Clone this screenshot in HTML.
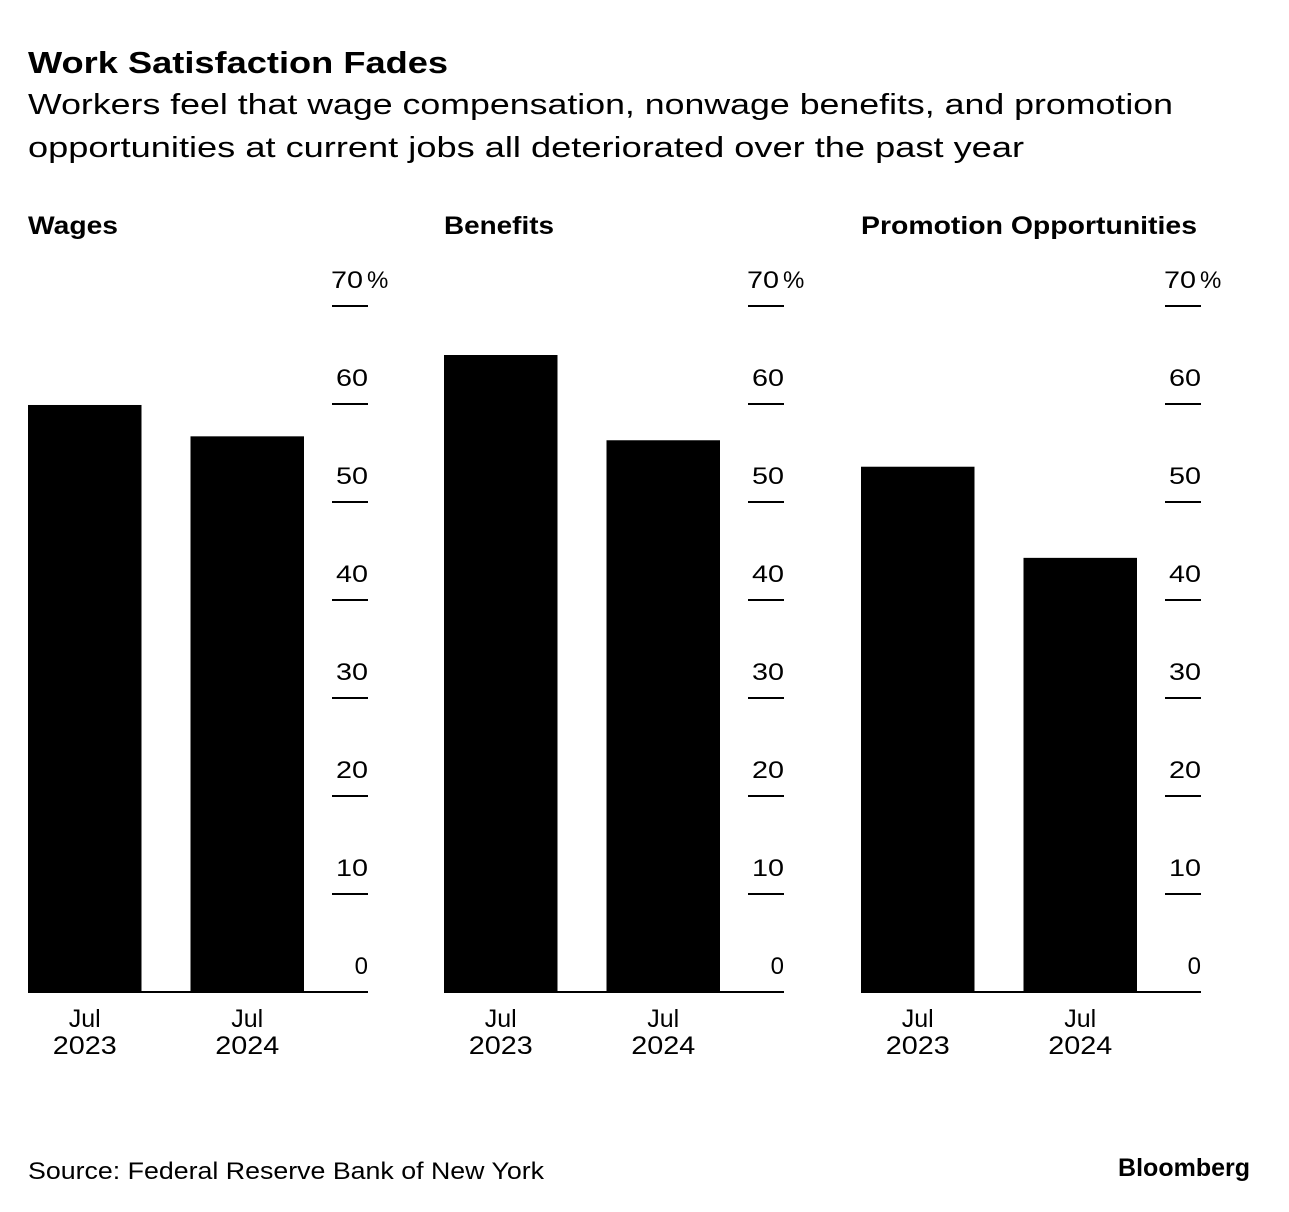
<!DOCTYPE html>
<html><head><meta charset="utf-8"><style>
body{margin:0;background:#fff;width:1289px;height:1212px;overflow:hidden;font-family:"Liberation Sans",sans-serif}
svg{display:block}
</style></head><body>
<svg id="c" width="1289" height="1212">
<text x="28" y="73" font-size="31" font-weight="bold" textLength="420" lengthAdjust="spacingAndGlyphs">Work Satisfaction Fades</text>
<text x="28" y="114" font-size="29" textLength="1145" lengthAdjust="spacingAndGlyphs">Workers feel that wage compensation, nonwage benefits, and promotion</text>
<text x="28" y="157" font-size="29" textLength="996" lengthAdjust="spacingAndGlyphs">opportunities at current jobs all deteriorated over the past year</text>
<text x="28" y="1179" font-size="24" textLength="516" lengthAdjust="spacingAndGlyphs">Source: Federal Reserve Bank of New York</text>
<text x="1250" y="1176" font-size="25" font-weight="bold" text-anchor="end">Bloomberg</text>
</svg>
<script>
const panelTitles=["Wages","Benefits","Promotion Opportunities"];
const categories=[["Jul","2023"],["Jul","2024"]];
const wagesValues=[59.9,56.7];
const benefitsValues=[65.0,56.3];
const promotionValues=[53.6,44.3];
const tickValues=[0,10,20,30,40,50,60,70];
const tickLabels=["0","10","20","30","40","50","60","70"];
const series=[wagesValues,benefitsValues,promotionValues];
const titleLens=[90,110,336];
const svg=document.getElementById('c');
const NS="http://www.w3.org/2000/svg";
const y0=992,pxPer=9.8;
function y(v){return y0-v*pxPer;}
function mk(tag,attrs,txt){const e=document.createElementNS(NS,tag);for(const k in attrs)e.setAttribute(k,attrs[k]);if(txt!==undefined)e.textContent=txt;svg.appendChild(e);return e;}
const panelX=[28,444,861];
series.forEach((vals,p)=>{
  const px=panelX[p];
  const t=mk('text',{x:px,y:234,'font-size':25,'font-weight':'bold',textLength:titleLens[p],lengthAdjust:'spacingAndGlyphs'},panelTitles[p]);
  
  
  vals.forEach((v,i)=>{
    const bx=px+i*162.5;
    const r=mk('rect',{x:bx,y:y(v),width:113.5,height:y0-y(v),fill:'#000'});
    
    
    const cx=bx+56.75;
    const l1=mk('text',{x:cx,y:1027,'font-size':25,'text-anchor':'middle'},categories[i][0]);
    
    
    const l2=mk('text',{x:cx,y:1054,'font-size':25,'text-anchor':'middle',textLength:64,lengthAdjust:'spacingAndGlyphs'},categories[i][1]);
    
    
  });
  const base=mk('line',{x1:px,x2:px+340,y1:y0,y2:y0,stroke:'#000','stroke-width':2});
  
  
  const tx=px+304;
  tickValues.forEach((v,i)=>{
    if(v>0){
      const tl=mk('line',{x1:tx,x2:tx+36,y1:y(v),y2:y(v),stroke:'#000','stroke-width':2});
      
      
    }
    const attrs={x:tx+36,y:y(v)-18,'font-size':24,'text-anchor':'end'};
    if(tickLabels[i].length===2){attrs.textLength=32;attrs.lengthAdjust='spacingAndGlyphs';}
    if(i===tickValues.length-1){attrs.x=tx+31;}
    const lab=mk('text',attrs,tickLabels[i]);
    
    
    if(i===tickValues.length-1){
      const pc=mk('text',{x:tx+35,y:y(v)-18,'font-size':24},'%');
      
      
    }
  });
});
</script>
</body></html>
